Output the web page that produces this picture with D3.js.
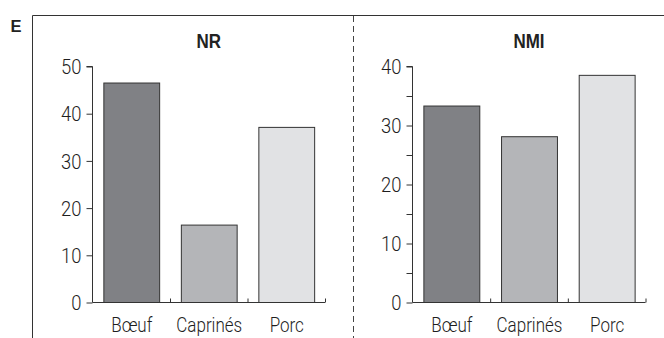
<!DOCTYPE html>
<html><head><meta charset="utf-8">
<script src="https://cdn.jsdelivr.net/npm/d3@7"></script>
<style>body{margin:0;background:#fff}svg{display:block}</style>
</head><body>
<svg id="c" width="664" height="338"></svg>
<script>
const categories = ["Bœuf", "Caprinés", "Porc"];
const nrValues = [46.5, 16.4, 37.1];
const nmiValues = [33.3, 28.1, 38.5];
const nrTicks = [0, 10, 20, 30, 40, 50];
const nmiTicks = [0, 5, 10, 15, 20, 25, 30, 35, 40];
const nmiLabels = [0, 10, 20, 30, 40];
const colors = ["#808185", "#b4b5b8", "#e1e2e4"];

const svg = d3.select("#c");
const font = "Roboto, 'Open Sans', sans-serif";
const boldFont = "Arial, 'Liberation Sans', sans-serif";

// frame
svg.append("line").attr("x1", 32.5).attr("x2", 664).attr("y1", 15.5).attr("y2", 15.5).attr("stroke", "#333").attr("stroke-width", 1);
svg.append("line").attr("x1", 32.5).attr("x2", 32.5).attr("y1", 15.5).attr("y2", 338).attr("stroke", "#333").attr("stroke-width", 1);
svg.append("line").attr("x1", 353.5).attr("x2", 353.5).attr("y1", 16).attr("y2", 338).attr("stroke", "#444").attr("stroke-width", 1).attr("stroke-dasharray", "6,4");
svg.append("text").attr("x", 10.5).attr("y", 31.7).text("E").attr("font-family", boldFont).attr("font-weight", "bold").attr("font-size", 16.5).attr("fill", "#222");

function panel(title, values, domainMax, ticks, labels, x0, x1) {
  const y = d3.scaleLinear().domain([0, domainMax]).range([302.5, 66.5]);
  const x = d3.scaleBand().domain(categories).range([x0, x1]).padding(0);
  const g = svg.append("g");
  const inset = x.bandwidth() * 0.14;
  g.selectAll("rect").data(values).join("rect")
    .attr("x", (d, i) => x(categories[i]) + inset + 0.5)
    .attr("width", x.bandwidth() - 2 * inset)
    .attr("y", d => y(d))
    .attr("height", d => y(0) - y(d))
    .attr("fill", (d, i) => colors[i])
    .attr("stroke", "#333").attr("stroke-width", 1);
  // y axis
  const ya = d3.axisLeft(y).tickValues(ticks).tickSize(6)
    .tickFormat(d => labels.includes(d) ? d : "");
  const yg = g.append("g").attr("transform", `translate(${x0},0)`).call(ya);
  yg.select(".domain").attr("d", `M-6,${y(domainMax)}H0V${y(0)}`).attr("stroke", "#333");
  yg.selectAll(".tick line").attr("stroke", "#333");
  yg.selectAll(".tick text").attr("x", 0).attr("dy", "0.36em")
    .attr("transform", "translate(-11,0) scale(0.92,1)")
    .attr("font-family", font).attr("font-weight", 300).attr("font-size", 20).attr("fill", "#1e1e1e");
  // x axis
  const xa = d3.axisBottom(d3.scaleLinear().domain([0, 3]).range([x0, x1])).tickValues([1, 2, 3]).tickSize(-4).tickFormat("");
  const xg = g.append("g").attr("transform", `translate(0,${y(0)})`).call(xa);
  xg.select(".domain").attr("d", `M${x0},0H${x1}`).attr("stroke", "#333");
  xg.selectAll(".tick line").attr("stroke", "#333");
  g.selectAll(".cat").data(categories).join("text").attr("class", "cat")
    .attr("transform", d => `translate(${x(d) + x.bandwidth() / 2 + 0.5},331.5) scale(0.85,1)`)
    .attr("text-anchor", "middle").text(d => d)
    .attr("font-family", font).attr("font-weight", 300).attr("font-size", 20).attr("fill", "#1e1e1e");
  g.append("text").attr("transform", `translate(${(x0 + x1) / 2},48.4) scale(0.87,1)`).attr("text-anchor", "middle")
    .text(title).attr("font-family", boldFont).attr("font-weight", "bold").attr("font-size", 19.5).attr("fill", "#222");
}
panel("NR", nrValues, 50, nrTicks, nrTicks, 92.5, 325);
panel("NMI", nmiValues, 40, nmiTicks, nmiLabels, 412.5, 645.5);
</script>
</body></html>
